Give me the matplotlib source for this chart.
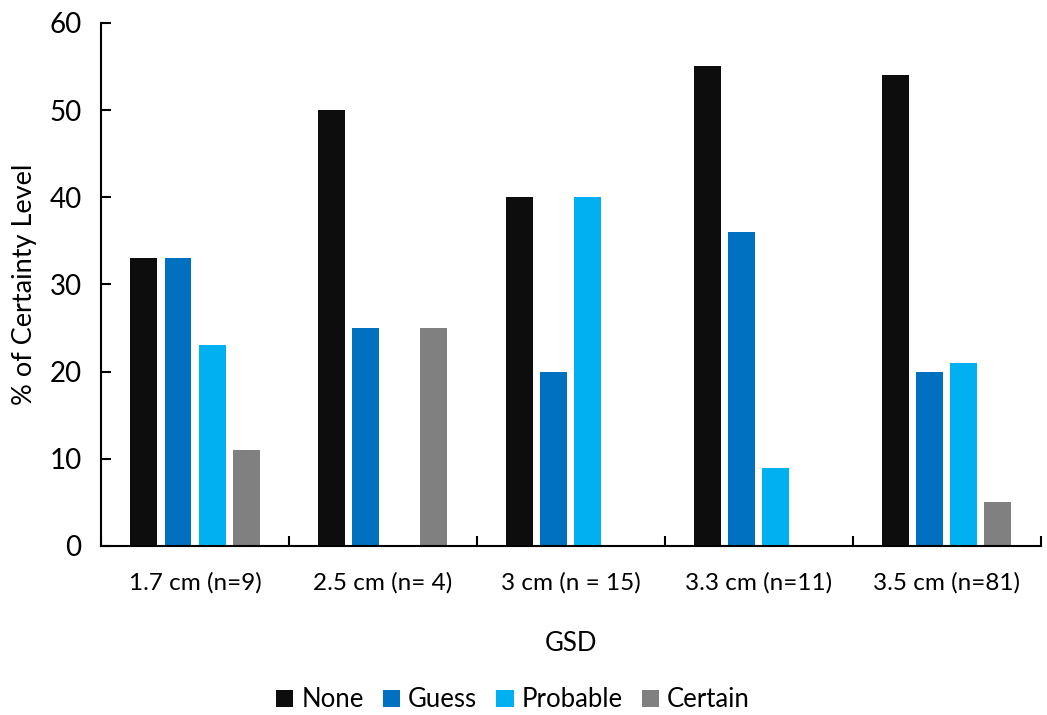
import matplotlib
matplotlib.use("Agg")
import matplotlib.pyplot as plt
import numpy as np

plt.rcParams['font.family'] = ['Lato', 'DejaVu Sans']

categories = ["1.7 cm (n=9)", "2.5 cm (n= 4)", "3 cm (n = 15)", "3.3 cm (n=11)", "3.5 cm (n=81)"]
series_names = ["None", "Guess", "Probable", "Certain"]
none_vals = [33, 50, 40, 55, 54]
guess_vals = [33, 25, 20, 36, 20]
probable_vals = [23, 0, 40, 9, 21]
certain_vals = [11, 25, 0, 0, 5]
colors = ["#0D0D0D", "#0070C0", "#00B0F0", "#808080"]
yticks = [0, 10, 20, 30, 40, 50, 60]

fig = plt.figure(figsize=(10.47, 7.15), dpi=100)
ax = fig.add_axes([0.0965, 0.2364, 0.8975, 0.7316])

x = np.arange(len(categories))
width = 0.1436
pitch = 0.181
all_vals = [none_vals, guess_vals, probable_vals, certain_vals]
for i, (name, vals, c) in enumerate(zip(series_names, all_vals, colors)):
    ax.bar(x + (i - 1.5) * pitch, vals, width, color=c, label=name)

ax.set_xlim(-0.5, len(categories) - 0.5)
ax.set_ylim(0, 60)
ax.set_yticks(yticks)
ax.set_xticks(x)
ax.set_xticklabels(categories)
ax.set_xticks(np.arange(len(categories) + 1) - 0.5, minor=True)

for s in ["top", "right"]:
    ax.spines[s].set_visible(False)
for s in ["left", "bottom"]:
    ax.spines[s].set_linewidth(1.5)
    ax.spines[s].set_color("#000000")

ax.tick_params(axis="y", direction="in", length=7, width=1.5, labelsize=20, pad=14)
ax.tick_params(axis="x", which="major", length=0, labelsize=17.5, pad=19)
ax.tick_params(axis="x", which="minor", direction="in", length=7, width=1.5)

ax.set_ylabel("% of Certainty Level", fontsize=19.5, labelpad=9)
ax.set_xlabel("GSD", fontsize=18.5, labelpad=27)

fig.legend(loc="center", bbox_to_anchor=(0.49, 0.021), ncol=4, frameon=False,
           fontsize=18.5, handlelength=0.68, handleheight=0.68, handletextpad=0.3,
           columnspacing=0.75)

fig.savefig("out.png", dpi=100)
